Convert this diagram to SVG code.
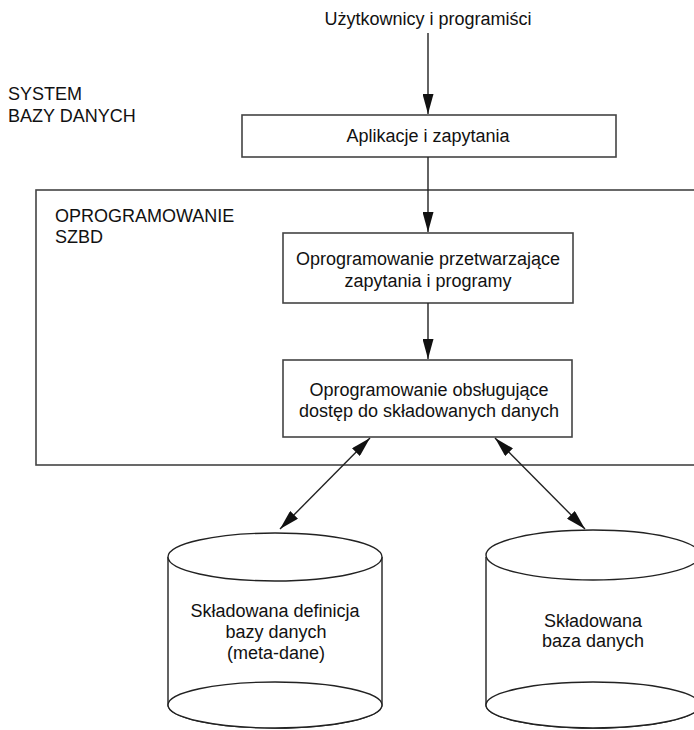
<svg xmlns="http://www.w3.org/2000/svg" width="694" height="730" viewBox="0 0 694 730">
<defs>
<style>
.t{font-family:"Liberation Sans",Arial,sans-serif;font-size:18px;fill:#111}
.c{text-anchor:middle}
.box{fill:#fff;stroke:#444;stroke-width:1.6}
.ln{fill:none;stroke:#222;stroke-width:1.4}
.cyl{fill:#fff;stroke:#222;stroke-width:1.4}
</style>
<marker id="ah" viewBox="0 0 20 11" refX="20" refY="5.5" markerWidth="20" markerHeight="11" markerUnits="userSpaceOnUse" orient="auto-start-reverse">
<path d="M0,0 L20,5.5 L0,11 z" fill="#111"/>
</marker>
</defs>
<rect width="694" height="730" fill="#fff"/>
<g id="system-label">
<text class="t" x="8" y="100">SYSTEM</text>
<text class="t" x="8" y="122">BAZY DANYCH</text>
</g>
<g id="dbms">
<rect class="box" x="36" y="190" width="680" height="275"/>
<text class="t" x="55" y="222">OPROGRAMOWANIE</text>
<text class="t" x="55" y="243">SZBD</text>
</g>
<g id="users">
<text class="t c" x="428" y="25">Użytkownicy i programiści</text>
</g>
<g id="apps">
<rect class="box" x="242" y="115" width="374" height="42"/>
<text class="t c" x="428" y="142">Aplikacje i zapytania</text>
</g>
<g id="query-proc">
<rect class="box" x="283" y="233" width="290" height="70"/>
<text class="t c" x="428" y="265">Oprogramowanie przetwarzające</text>
<text class="t c" x="428" y="287">zapytania i programy</text>
</g>
<g id="access">
<rect class="box" x="283" y="360" width="289" height="77"/>
<text class="t c" x="429" y="396">Oprogramowanie obsługujące</text>
<text class="t c" x="429" y="417">dostęp do składowanych danych</text>
</g>
<g id="meta-db">
<path class="cyl" d="M168,557 L168,705 A107,23 0 0 0 382,705 L382,557"/>
<ellipse class="cyl" cx="275" cy="705" rx="107" ry="23" fill="none"/>
<ellipse class="cyl" cx="275" cy="557" rx="107" ry="24"/>
<text class="t c" x="275" y="617">Składowana definicja</text>
<text class="t c" x="276" y="638">bazy danych</text>
<text class="t c" x="276" y="659">(meta-dane)</text>
</g>
<g id="data-db">
<path class="cyl" d="M486,557 L486,705 A107,23 0 0 0 700,705 L700,557"/>
<ellipse class="cyl" cx="593" cy="705" rx="107" ry="23" fill="none"/>
<ellipse class="cyl" cx="593" cy="555" rx="107" ry="25"/>
<text class="t c" x="593" y="627">Składowana</text>
<text class="t c" x="593" y="647">baza danych</text>
</g>
<g id="connectors">
<line class="ln" x1="428" y1="33" x2="428" y2="114" marker-end="url(#ah)"/>
<line class="ln" x1="428" y1="157" x2="428" y2="232" marker-end="url(#ah)"/>
<line class="ln" x1="428" y1="303" x2="428" y2="359" marker-end="url(#ah)"/>
<line class="ln" x1="370" y1="438" x2="280" y2="529" marker-start="url(#ah)" marker-end="url(#ah)"/>
<line class="ln" x1="495" y1="438" x2="585" y2="529" marker-start="url(#ah)" marker-end="url(#ah)"/>
</g>
</svg>
